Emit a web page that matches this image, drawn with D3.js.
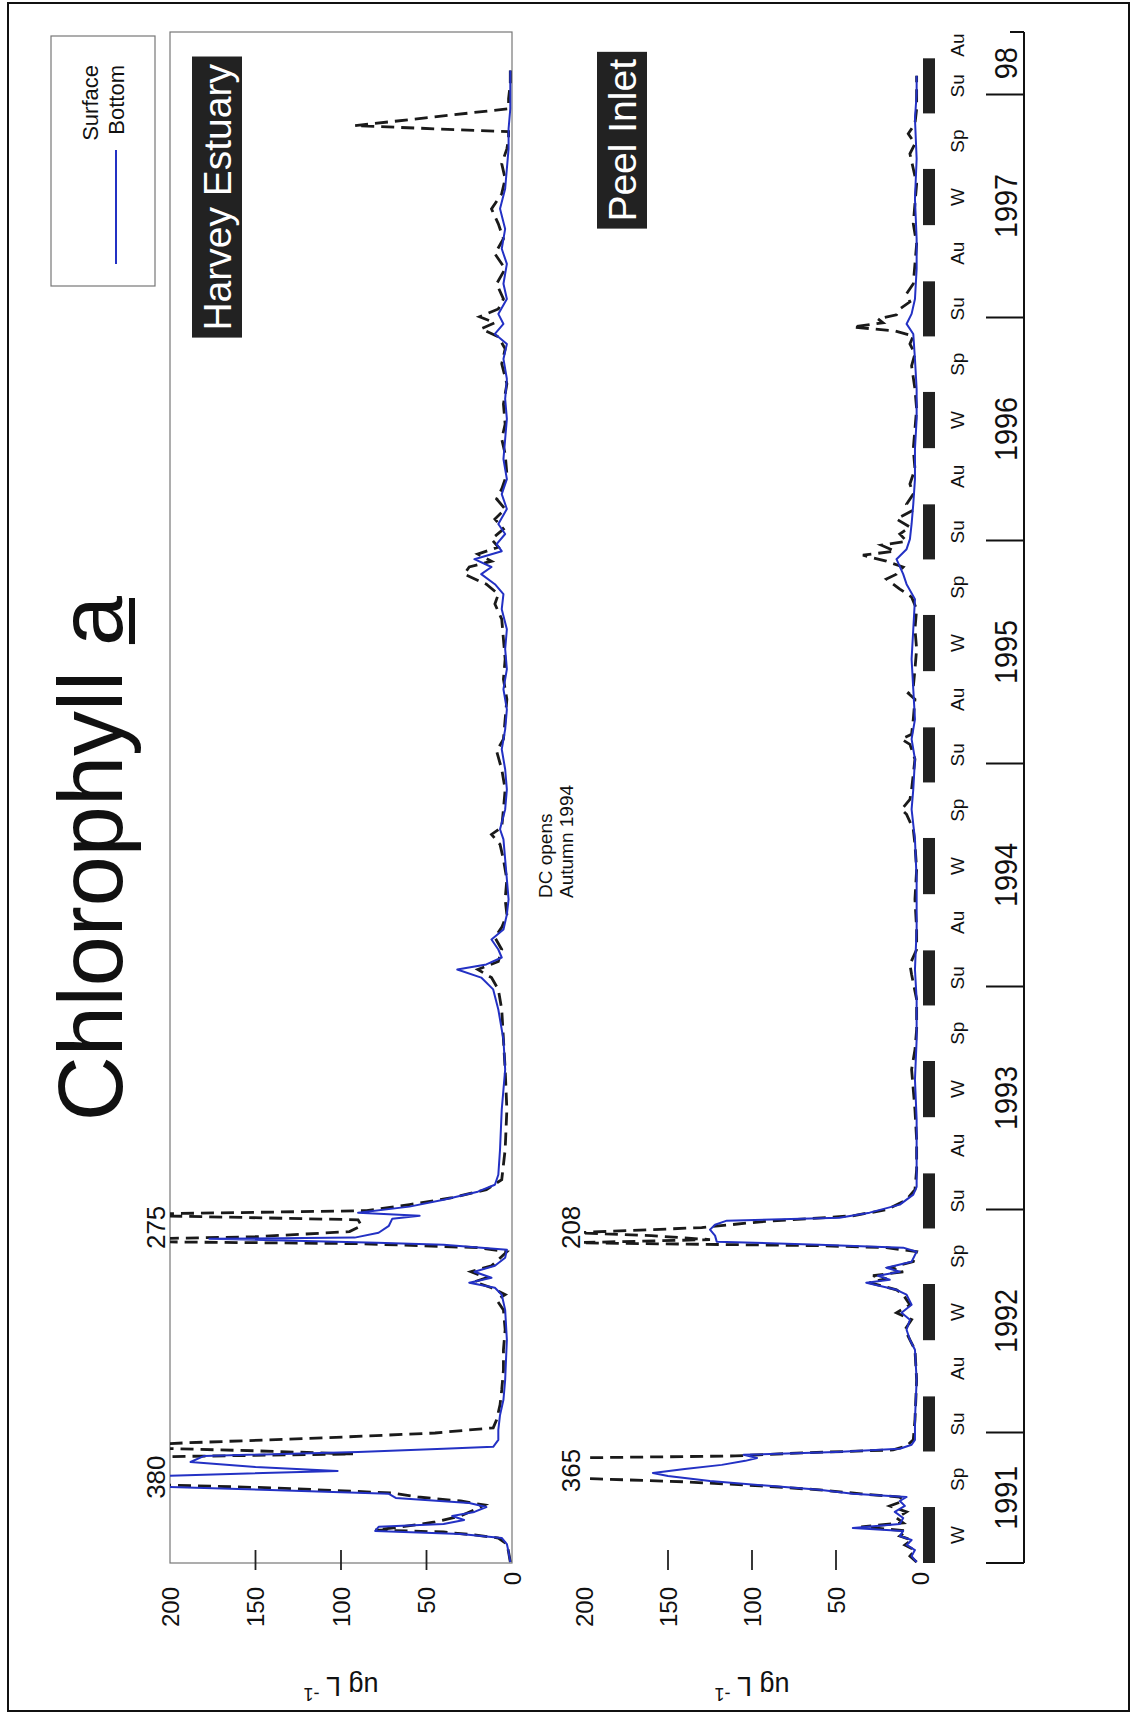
<!DOCTYPE html>
<html>
<head>
<meta charset="utf-8">
<script src="https://cdn.jsdelivr.net/npm/d3@7"></script>
<style>
  body { margin: 0; background: #fff; }
  svg text { font-family: "Liberation Sans", Arial, Helvetica, sans-serif; fill: #111; }
</style>
</head>
<body>
<div id="chart"></div>
<script>
// chlorophyll a (ug/L), [decimal year, value]; values over 200 run off the panel
const harveySurface = [[1991.419,1],[1991.464,2],[1991.500,3],[1991.527,8],[1991.541,22],[1991.554,40],[1991.563,80],[1991.577,65],[1991.599,45],[1991.626,30],[1991.653,22],[1991.675,16],[1991.693,30],[1991.711,55],[1991.729,70],[1991.752,140],[1991.770,230],[1991.796,380],[1991.832,300],[1991.868,240],[1991.891,210],[1991.904,93],[1991.918,150],[1991.936,240],[1991.954,190],[1991.976,110],[1991.998,45],[1992.021,11],[1992.057,9],[1992.124,7],[1992.191,6],[1992.281,5],[1992.371,5],[1992.461,4],[1992.550,5],[1992.595,9],[1992.618,4],[1992.649,12],[1992.676,22],[1992.694,15],[1992.721,24],[1992.748,12],[1992.775,8],[1992.811,3],[1992.829,20],[1992.847,90],[1992.860,275],[1992.878,150],[1992.901,95],[1992.927,88],[1992.954,90],[1992.977,240],[1992.995,85],[1993.022,60],[1993.053,35],[1993.089,15],[1993.134,6],[1993.269,4],[1993.448,3],[1993.628,4],[1993.762,5],[1993.897,6],[1993.987,8],[1994.040,12],[1994.076,20],[1994.112,8],[1994.166,6],[1994.220,10],[1994.265,6],[1994.323,3],[1994.391,4],[1994.480,3],[1994.570,5],[1994.637,7],[1994.682,12],[1994.714,6],[1994.794,5],[1994.884,4],[1994.974,6],[1995.055,9],[1995.109,5],[1995.198,4],[1995.288,3],[1995.378,5],[1995.468,4],[1995.557,5],[1995.647,6],[1995.715,10],[1995.759,8],[1995.804,15],[1995.849,28],[1995.881,25],[1995.907,12],[1995.939,20],[1995.970,8],[1996.006,12],[1996.051,5],[1996.096,10],[1996.141,4],[1996.186,9],[1996.231,6],[1996.298,3],[1996.388,4],[1996.455,6],[1996.522,4],[1996.612,5],[1996.702,3],[1996.792,6],[1996.859,4],[1996.913,8],[1996.949,18],[1996.976,10],[1997.003,19],[1997.038,8],[1997.083,5],[1997.151,9],[1997.218,4],[1997.285,10],[1997.353,5],[1997.420,8],[1997.487,12],[1997.555,6],[1997.622,4],[1997.689,6],[1997.756,3],[1997.801,2],[1997.833,2],[1997.860,92],[1997.936,2],[1997.981,2],[1998.048,1],[1998.107,1]];

const harveyBottom = [[1991.419,1],[1991.464,2],[1991.500,3],[1991.527,6],[1991.545,30],[1991.559,80],[1991.577,78],[1991.590,40],[1991.608,28],[1991.626,35],[1991.644,22],[1991.666,15],[1991.684,25],[1991.707,68],[1991.725,72],[1991.747,160],[1991.765,240],[1991.788,260],[1991.805,205],[1991.828,102],[1991.846,150],[1991.868,188],[1991.895,180],[1991.913,90],[1991.927,40],[1991.936,11],[1991.967,8],[1992.012,8],[1992.079,7],[1992.147,5],[1992.236,4],[1992.416,3],[1992.550,4],[1992.618,6],[1992.649,10],[1992.672,25],[1992.694,12],[1992.721,22],[1992.748,10],[1992.784,4],[1992.820,3],[1992.842,40],[1992.851,79],[1992.869,177],[1992.874,92],[1992.896,78],[1992.927,72],[1992.959,70],[1992.972,54],[1992.986,90],[1993.013,60],[1993.044,40],[1993.080,20],[1993.111,10],[1993.156,8],[1993.269,7],[1993.448,6],[1993.628,4],[1993.762,5],[1993.897,8],[1993.987,11],[1994.040,18],[1994.076,32],[1994.099,15],[1994.130,6],[1994.166,8],[1994.211,12],[1994.256,5],[1994.323,3],[1994.391,2],[1994.480,3],[1994.570,4],[1994.660,5],[1994.705,7],[1994.794,4],[1994.884,3],[1994.974,4],[1995.064,6],[1995.153,4],[1995.243,3],[1995.333,5],[1995.423,3],[1995.513,4],[1995.602,3],[1995.692,6],[1995.759,5],[1995.804,10],[1995.849,18],[1995.881,12],[1995.916,22],[1995.952,6],[1995.984,9],[1996.029,4],[1996.074,8],[1996.141,3],[1996.208,6],[1996.275,3],[1996.365,5],[1996.455,4],[1996.545,3],[1996.635,4],[1996.724,3],[1996.814,5],[1996.881,3],[1996.926,10],[1996.971,5],[1997.016,8],[1997.083,3],[1997.151,5],[1997.240,3],[1997.308,6],[1997.397,4],[1997.487,7],[1997.577,4],[1997.667,3],[1997.756,2],[1997.846,2],[1997.936,1],[1998.026,1],[1998.107,1]];

const peelSurface = [[1991.419,2],[1991.446,6],[1991.473,3],[1991.496,9],[1991.518,5],[1991.536,12],[1991.559,8],[1991.577,35],[1991.595,10],[1991.617,14],[1991.644,8],[1991.671,18],[1991.693,10],[1991.711,12],[1991.725,35],[1991.743,60],[1991.761,95],[1991.779,140],[1991.792,192],[1991.810,280],[1991.841,365],[1991.868,300],[1991.886,210],[1991.895,110],[1991.909,70],[1991.922,16],[1991.940,8],[1991.967,4],[1992.057,3],[1992.236,2],[1992.371,3],[1992.416,6],[1992.461,9],[1992.506,5],[1992.537,14],[1992.573,6],[1992.618,10],[1992.640,14],[1992.672,30],[1992.690,20],[1992.703,28],[1992.721,10],[1992.739,18],[1992.766,4],[1992.811,2],[1992.829,20],[1992.838,60],[1992.851,208],[1992.865,125],[1992.883,160],[1992.896,205],[1992.919,130],[1992.945,95],[1992.972,40],[1992.999,20],[1993.044,8],[1993.089,3],[1993.179,2],[1993.313,2],[1993.448,3],[1993.538,4],[1993.628,5],[1993.717,3],[1993.807,2],[1993.942,2],[1994.054,5],[1994.099,6],[1994.166,2],[1994.256,2],[1994.391,3],[1994.525,2],[1994.637,3],[1994.705,4],[1994.772,8],[1994.794,11],[1994.839,6],[1994.884,5],[1994.952,4],[1995.019,3],[1995.086,6],[1995.109,11],[1995.131,5],[1995.198,4],[1995.288,3],[1995.315,7],[1995.342,4],[1995.423,3],[1995.513,2],[1995.602,3],[1995.692,2],[1995.746,5],[1995.782,12],[1995.827,20],[1995.849,14],[1995.881,10],[1995.907,20],[1995.934,34],[1995.952,15],[1995.979,23],[1995.997,8],[1996.029,12],[1996.060,6],[1996.096,14],[1996.132,5],[1996.163,8],[1996.208,4],[1996.253,6],[1996.321,3],[1996.410,4],[1996.500,3],[1996.590,2],[1996.679,3],[1996.783,5],[1996.837,3],[1996.881,6],[1996.917,4],[1996.940,15],[1996.957,40],[1996.976,22],[1996.994,25],[1997.012,14],[1997.038,12],[1997.070,6],[1997.106,8],[1997.151,4],[1997.240,3],[1997.330,2],[1997.420,4],[1997.510,3],[1997.599,2],[1997.667,4],[1997.734,6],[1997.779,3],[1997.824,7],[1997.869,3],[1997.936,2],[1998.003,2],[1998.084,2]];

const peelBottom = [[1991.419,2],[1991.446,5],[1991.473,3],[1991.496,8],[1991.518,5],[1991.536,12],[1991.559,10],[1991.572,40],[1991.590,12],[1991.617,10],[1991.644,15],[1991.671,9],[1991.693,12],[1991.711,8],[1991.725,40],[1991.743,60],[1991.761,90],[1991.783,125],[1991.805,150],[1991.819,159],[1991.837,140],[1991.855,118],[1991.873,104],[1991.886,97],[1991.900,105],[1991.913,50],[1991.927,12],[1991.945,5],[1991.967,3],[1992.057,3],[1992.236,2],[1992.371,3],[1992.416,6],[1992.461,8],[1992.506,6],[1992.537,11],[1992.573,5],[1992.618,8],[1992.640,14],[1992.672,32],[1992.685,18],[1992.703,25],[1992.721,12],[1992.739,20],[1992.766,5],[1992.811,2],[1992.829,10],[1992.842,60],[1992.856,121],[1992.883,122],[1992.910,125],[1992.932,122],[1992.950,115],[1992.963,48],[1992.986,30],[1993.022,12],[1993.067,4],[1993.102,2],[1993.224,2],[1993.403,2],[1993.583,3],[1993.762,2],[1993.942,2],[1994.076,3],[1994.256,2],[1994.480,2],[1994.660,3],[1994.794,5],[1994.884,4],[1995.019,3],[1995.109,5],[1995.198,3],[1995.333,4],[1995.468,5],[1995.602,4],[1995.737,3],[1995.804,8],[1995.849,10],[1995.916,14],[1995.961,8],[1996.006,6],[1996.074,5],[1996.163,4],[1996.275,3],[1996.410,3],[1996.545,2],[1996.679,2],[1996.814,3],[1996.926,4],[1996.971,8],[1997.016,5],[1997.083,3],[1997.218,2],[1997.353,2],[1997.532,3],[1997.712,2],[1997.891,3],[1998.003,2],[1998.084,2]];

const valueTicks = [0, 50, 100, 150, 200];
const yearTicks = [1992, 1993, 1994, 1995, 1996, 1997, 1998];
const yearLabels = ['1991', '1992', '1993', '1994', '1995', '1996', '1997', '98'];
// season start as fraction of the year (Dec 1 belongs to next year's summer)
const seasonNames = ['Su', 'Au', 'W', 'Sp'];
const seasonStarts = [-0.085, 0.162, 0.414, 0.666];
const peaks = [
  { panel: 'harvey', t: 1991.80, label: '380' },
  { panel: 'harvey', t: 1992.92, label: '275' },
  { panel: 'peel',   t: 1991.83, label: '365' },
  { panel: 'peel',   t: 1992.92, label: '208' }
];

const W = 1138, H = 1732;
const svg = d3.select('#chart').append('svg')
  .attr('width', W).attr('height', H);
svg.append('rect').attr('width', W).attr('height', H).attr('fill', '#fff');

// figure is laid out landscape, then turned a quarter turn on the page
const g = svg.append('g').attr('transform', `translate(0,${H}) rotate(-90)`);

const t0 = 1991.415, t1 = 1998.28;
const x = d3.scaleLinear().domain([t0, t1]).range([169, 1700]);
const yH = d3.scaleLinear().domain([0, 200]).range([512, 170]);
const yP = d3.scaleLinear().domain([0, 200]).range([920, 584]);

const BLUE = '#2331c4';

// outer frame
g.append('rect').attr('x', 21).attr('y', 8).attr('width', 1708).attr('height', 1121)
  .attr('fill', 'none').attr('stroke', '#111').attr('stroke-width', 2);

// title
const title = g.append('text')
  .attr('x', 1136).attr('y', 122)
  .attr('text-anchor', 'end')
  .style('font-size', '90px')
  .text('Chlorophyll a');
{
  const n = title.node();
  const p = n.getStartPositionOfChar(12);
  const w = n.getSubStringLength(12, 1);
  g.append('rect').attr('x', p.x + 2).attr('y', 129).attr('width', w - 4).attr('height', 6).attr('fill', '#111');
}

// legend
g.append('rect').attr('x', 1446).attr('y', 51).attr('width', 250).attr('height', 104)
  .attr('fill', 'none').attr('stroke', '#777').attr('stroke-width', 1.2);
g.append('text').attr('x', 1667).attr('y', 98).attr('text-anchor', 'end')
  .style('font-size', '22px').text('Surface');
g.append('text').attr('x', 1667).attr('y', 124).attr('text-anchor', 'end')
  .style('font-size', '22px').text('Bottom');
g.append('line').attr('x1', 1468).attr('x2', 1582).attr('y1', 116).attr('y2', 116)
  .attr('stroke', BLUE).attr('stroke-width', 2);

// clip regions
const defs = svg.append('defs');
defs.append('clipPath').attr('id', 'clipH').append('rect')
  .attr('x', x(t0)).attr('y', yH(200)).attr('width', x(t1) - x(t0)).attr('height', yH(0) - yH(200) + 4);
defs.append('clipPath').attr('id', 'clipP').append('rect')
  .attr('x', x(t0)).attr('y', yP(200)).attr('width', x(t1) - x(t0)).attr('height', yP(0) - yP(200) + 4);

// Harvey panel box
g.append('rect').attr('x', x(t0)).attr('y', yH(200))
  .attr('width', x(t1) - x(t0)).attr('height', yH(0) - yH(200))
  .attr('fill', 'none').attr('stroke', '#777').attr('stroke-width', 1.2);

function drawPanel(y, surface, bottom, clipId) {
  const line = d3.line().x(d => x(d[0])).y(d => y(d[1]));
  const lg = g.append('g').attr('clip-path', `url(#${clipId})`);
  lg.append('path').attr('d', line(surface))
    .attr('fill', 'none').attr('stroke', '#1a1a1a').attr('stroke-width', 2.8)
    .attr('stroke-dasharray', '13,7');
  lg.append('path').attr('d', line(bottom))
    .attr('fill', 'none').attr('stroke', BLUE).attr('stroke-width', 2)
    .attr('stroke-linejoin', 'round');

  // value ticks and labels
  g.selectAll(null).data(valueTicks.filter(v => v > 0 && v < 200)).join('line')
    .attr('x1', 162).attr('x2', 182)
    .attr('y1', d => y(d)).attr('y2', d => y(d))
    .attr('stroke', '#222').attr('stroke-width', 1.8);
  g.selectAll(null).data(valueTicks).join('text')
    .attr('x', d => d === 0 ? 160 : 145)
    .attr('y', d => y(d))
    .attr('text-anchor', 'end').attr('dominant-baseline', 'central')
    .style('font-size', '24px')
    .text(d => d);

  // axis title, ug L-1
  const yl = g.append('text')
    .attr('transform', `translate(55,${(y(0) + y(200)) / 2}) rotate(-90)`)
    .attr('text-anchor', 'middle').style('font-size', '27px');
  yl.append('tspan').text('ug L ');
  yl.append('tspan').attr('dy', -11).style('font-size', '18px').text('-1');
}
drawPanel(yH, harveySurface, harveyBottom, 'clipH');
drawPanel(yP, peelSurface, peelBottom, 'clipP');

// peak values that run off the panel
g.selectAll(null).data(peaks).join('text')
  .attr('x', d => x(d.t))
  .attr('y', d => d.panel === 'harvey' ? yH(200) - 5 : yP(200) - 4)
  .attr('text-anchor', 'middle')
  .style('font-size', '26px')
  .text(d => d.label);

// panel name tags
function tag(label, uEnd, vMid) {
  const tg = g.append('g');
  const tx = tg.append('text').attr('x', uEnd).attr('y', vMid)
    .attr('text-anchor', 'end').attr('dominant-baseline', 'central')
    .style('font-size', '39px').style('fill', '#fff').text(label);
  const b = tx.node().getBBox();
  tg.insert('rect', 'text').attr('x', b.x - 7).attr('y', vMid - 25)
    .attr('width', b.width + 14).attr('height', 50).attr('fill', '#222');
}
tag('Harvey Estuary', 1668, 217);
tag('Peel Inlet', 1673, 622);

// annotation
const ann = g.append('text').attr('x', 834).attr('y', 552).style('font-size', '19px');
ann.append('tspan').attr('x', 834).text('DC opens');
ann.append('tspan').attr('x', 834).attr('dy', 21).text('Autumn 1994');

// seasons: bars for winter and summer, labels for all
const seasons = [];
for (let yr = 1991; yr <= 1998; yr++) {
  seasonStarts.forEach((s, i) => {
    const a = yr + s;
    const b = i < 3 ? yr + seasonStarts[i + 1] : yr + 1 + seasonStarts[0];
    const lo = Math.max(a, t0), hi = Math.min(b, t1);
    if (hi - lo > 0.05) seasons.push({ name: seasonNames[i], a: lo, b: hi });
  });
}
g.selectAll(null).data(seasons.filter(d => d.name === 'W' || d.name === 'Su')).join('rect')
  .attr('x', d => x(d.a)).attr('width', d => x(d.b) - x(d.a))
  .attr('y', 923).attr('height', 12).attr('fill', '#222');
g.selectAll(null).data(seasons).join('text')
  .attr('x', d => x((d.a + d.b) / 2)).attr('y', 957)
  .attr('text-anchor', 'middle').attr('dominant-baseline', 'central')
  .style('font-size', '19px').text(d => d.name);

// time axis
g.append('line').attr('x1', x(t0)).attr('x2', x(t1)).attr('y1', 1024).attr('y2', 1024)
  .attr('stroke', '#111').attr('stroke-width', 2);
g.selectAll(null).data([t0, ...yearTicks]).join('line')
  .attr('x1', d => x(d)).attr('x2', d => x(d))
  .attr('y1', 986).attr('y2', 1024)
  .attr('stroke', '#111').attr('stroke-width', 2);
g.append('line').attr('x1', x(t1)).attr('x2', x(t1)).attr('y1', 1010).attr('y2', 1024)
  .attr('stroke', '#111').attr('stroke-width', 2);
const bounds = [t0, ...yearTicks, t1];
g.selectAll(null).data(yearLabels).join('text')
  .attr('transform', (d, i) => `translate(${x((bounds[i] + bounds[i + 1]) / 2)},1005) scale(0.9,1)`)
  .attr('text-anchor', 'middle').attr('dominant-baseline', 'central')
  .style('font-size', '32px').text(d => d);
</script>
</body>
</html>
